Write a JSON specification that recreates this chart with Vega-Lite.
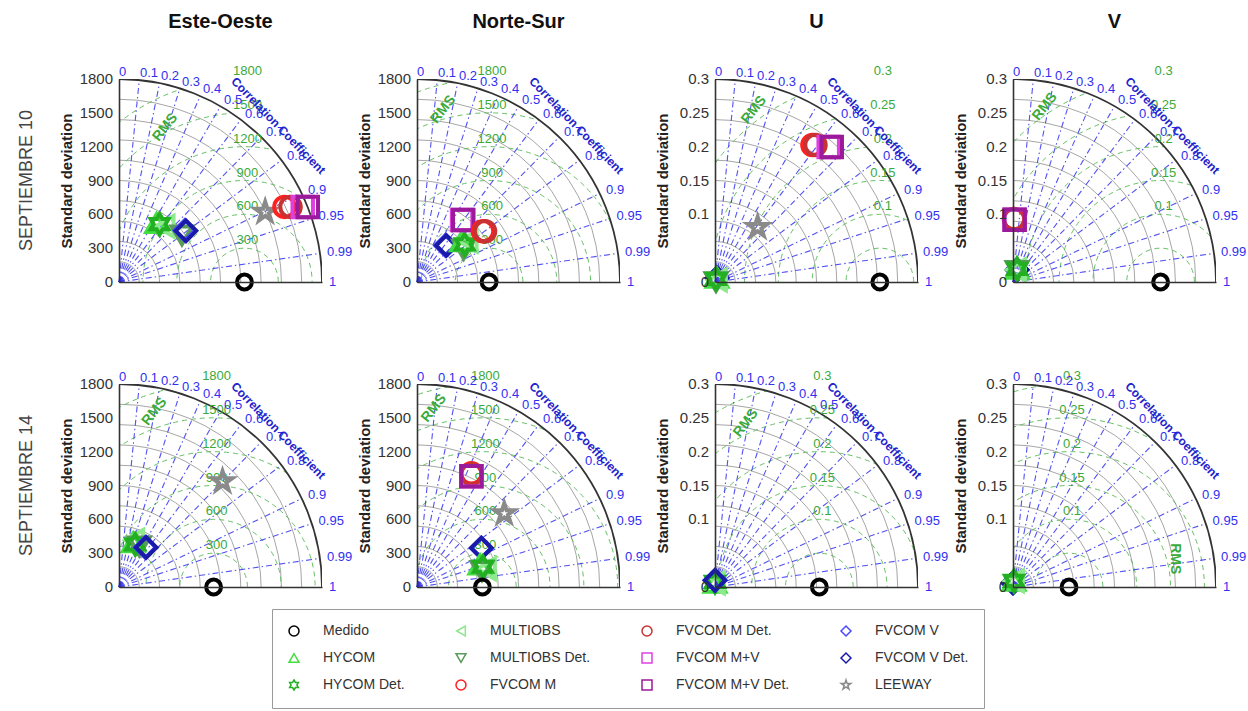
{
"$schema": "https://vega.github.io/schema/vega-lite/v6.json",
"background": "white",
"padding": {"left": 18, "top": 12, "right": 5, "bottom": 5},
"config": {"font": "Liberation Sans", "view": {"stroke": null}},
"data": {"values": [
{"row":"SEPTIEMBRE 10","col":"Este-Oeste","k":"rms","ref":0.618,"r":0.1667,"lab":"300"},
{"row":"SEPTIEMBRE 10","col":"Este-Oeste","k":"rms","ref":0.618,"r":0.3333,"lab":"600"},
{"row":"SEPTIEMBRE 10","col":"Este-Oeste","k":"rms","ref":0.618,"r":0.5,"lab":"900"},
{"row":"SEPTIEMBRE 10","col":"Este-Oeste","k":"rms","ref":0.618,"r":0.6667,"lab":"1200"},
{"row":"SEPTIEMBRE 10","col":"Este-Oeste","k":"rms","ref":0.618,"r":0.8333,"lab":"1500"},
{"row":"SEPTIEMBRE 10","col":"Este-Oeste","k":"rms","ref":0.618,"r":1.0,"lab":"1800"},
{"row":"SEPTIEMBRE 10","col":"Norte-Sur","k":"rms","ref":0.355,"r":0.1667,"lab":"300"},
{"row":"SEPTIEMBRE 10","col":"Norte-Sur","k":"rms","ref":0.355,"r":0.3333,"lab":"600"},
{"row":"SEPTIEMBRE 10","col":"Norte-Sur","k":"rms","ref":0.355,"r":0.5,"lab":"900"},
{"row":"SEPTIEMBRE 10","col":"Norte-Sur","k":"rms","ref":0.355,"r":0.6667,"lab":"1200"},
{"row":"SEPTIEMBRE 10","col":"Norte-Sur","k":"rms","ref":0.355,"r":0.8333,"lab":"1500"},
{"row":"SEPTIEMBRE 10","col":"Norte-Sur","k":"rms","ref":0.355,"r":1.0,"lab":"1800"},
{"row":"SEPTIEMBRE 10","col":"U","k":"rms","ref":0.812,"r":0.1667,"lab":""},
{"row":"SEPTIEMBRE 10","col":"U","k":"rms","ref":0.812,"r":0.3333,"lab":"0.1"},
{"row":"SEPTIEMBRE 10","col":"U","k":"rms","ref":0.812,"r":0.5,"lab":"0.15"},
{"row":"SEPTIEMBRE 10","col":"U","k":"rms","ref":0.812,"r":0.6667,"lab":"0.2"},
{"row":"SEPTIEMBRE 10","col":"U","k":"rms","ref":0.812,"r":0.8333,"lab":"0.25"},
{"row":"SEPTIEMBRE 10","col":"U","k":"rms","ref":0.812,"r":1.0,"lab":"0.3"},
{"row":"SEPTIEMBRE 10","col":"V","k":"rms","ref":0.727,"r":0.1667,"lab":""},
{"row":"SEPTIEMBRE 10","col":"V","k":"rms","ref":0.727,"r":0.3333,"lab":"0.1"},
{"row":"SEPTIEMBRE 10","col":"V","k":"rms","ref":0.727,"r":0.5,"lab":"0.15"},
{"row":"SEPTIEMBRE 10","col":"V","k":"rms","ref":0.727,"r":0.6667,"lab":"0.2"},
{"row":"SEPTIEMBRE 10","col":"V","k":"rms","ref":0.727,"r":0.8333,"lab":"0.25"},
{"row":"SEPTIEMBRE 10","col":"V","k":"rms","ref":0.727,"r":1.0,"lab":"0.3"},
{"row":"SEPTIEMBRE 14","col":"Este-Oeste","k":"rms","ref":0.466,"r":0.1667,"lab":"300"},
{"row":"SEPTIEMBRE 14","col":"Este-Oeste","k":"rms","ref":0.466,"r":0.3333,"lab":"600"},
{"row":"SEPTIEMBRE 14","col":"Este-Oeste","k":"rms","ref":0.466,"r":0.5,"lab":"900"},
{"row":"SEPTIEMBRE 14","col":"Este-Oeste","k":"rms","ref":0.466,"r":0.6667,"lab":"1200"},
{"row":"SEPTIEMBRE 14","col":"Este-Oeste","k":"rms","ref":0.466,"r":0.8333,"lab":"1500"},
{"row":"SEPTIEMBRE 14","col":"Este-Oeste","k":"rms","ref":0.466,"r":1.0,"lab":"1800"},
{"row":"SEPTIEMBRE 14","col":"Norte-Sur","k":"rms","ref":0.322,"r":0.1667,"lab":"300"},
{"row":"SEPTIEMBRE 14","col":"Norte-Sur","k":"rms","ref":0.322,"r":0.3333,"lab":"600"},
{"row":"SEPTIEMBRE 14","col":"Norte-Sur","k":"rms","ref":0.322,"r":0.5,"lab":"900"},
{"row":"SEPTIEMBRE 14","col":"Norte-Sur","k":"rms","ref":0.322,"r":0.6667,"lab":"1200"},
{"row":"SEPTIEMBRE 14","col":"Norte-Sur","k":"rms","ref":0.322,"r":0.8333,"lab":"1500"},
{"row":"SEPTIEMBRE 14","col":"Norte-Sur","k":"rms","ref":0.322,"r":1.0,"lab":"1800"},
{"row":"SEPTIEMBRE 14","col":"U","k":"rms","ref":0.514,"r":0.1667,"lab":""},
{"row":"SEPTIEMBRE 14","col":"U","k":"rms","ref":0.514,"r":0.3333,"lab":"0.1"},
{"row":"SEPTIEMBRE 14","col":"U","k":"rms","ref":0.514,"r":0.5,"lab":"0.15"},
{"row":"SEPTIEMBRE 14","col":"U","k":"rms","ref":0.514,"r":0.6667,"lab":"0.2"},
{"row":"SEPTIEMBRE 14","col":"U","k":"rms","ref":0.514,"r":0.8333,"lab":"0.25"},
{"row":"SEPTIEMBRE 14","col":"U","k":"rms","ref":0.514,"r":1.0,"lab":"0.3"},
{"row":"SEPTIEMBRE 14","col":"V","k":"rms","ref":0.276,"r":0.1667,"lab":""},
{"row":"SEPTIEMBRE 14","col":"V","k":"rms","ref":0.276,"r":0.3333,"lab":"0.1"},
{"row":"SEPTIEMBRE 14","col":"V","k":"rms","ref":0.276,"r":0.5,"lab":"0.15"},
{"row":"SEPTIEMBRE 14","col":"V","k":"rms","ref":0.276,"r":0.6667,"lab":"0.2"},
{"row":"SEPTIEMBRE 14","col":"V","k":"rms","ref":0.276,"r":0.8333,"lab":"0.25"},
{"row":"SEPTIEMBRE 14","col":"V","k":"rms","ref":0.276,"r":1.0,"lab":"0.3"},
{"row":"SEPTIEMBRE 10","col":"Este-Oeste","k":"rmst","x":0.228,"y":0.762},
{"row":"SEPTIEMBRE 10","col":"Norte-Sur","k":"rmst","x":0.129,"y":0.85},
{"row":"SEPTIEMBRE 10","col":"U","k":"rmst","x":0.192,"y":0.848},
{"row":"SEPTIEMBRE 10","col":"V","k":"rmst","x":0.157,"y":0.864},
{"row":"SEPTIEMBRE 14","col":"Este-Oeste","k":"rmst","x":0.175,"y":0.864},
{"row":"SEPTIEMBRE 14","col":"Norte-Sur","k":"rmst","x":0.084,"y":0.881},
{"row":"SEPTIEMBRE 14","col":"U","k":"rmst","x":0.152,"y":0.808},
{"row":"SEPTIEMBRE 14","col":"V","k":"rmst","x":0.8,"y":0.139},
{"row":"SEPTIEMBRE 10","col":"Este-Oeste","k":"yl","y":0,"t":"0"},
{"row":"SEPTIEMBRE 10","col":"Este-Oeste","k":"yl","y":0.1667,"t":"300"},
{"row":"SEPTIEMBRE 10","col":"Este-Oeste","k":"yl","y":0.3333,"t":"600"},
{"row":"SEPTIEMBRE 10","col":"Este-Oeste","k":"yl","y":0.5,"t":"900"},
{"row":"SEPTIEMBRE 10","col":"Este-Oeste","k":"yl","y":0.6667,"t":"1200"},
{"row":"SEPTIEMBRE 10","col":"Este-Oeste","k":"yl","y":0.8333,"t":"1500"},
{"row":"SEPTIEMBRE 10","col":"Este-Oeste","k":"yl","y":1,"t":"1800"},
{"row":"SEPTIEMBRE 10","col":"Norte-Sur","k":"yl","y":0,"t":"0"},
{"row":"SEPTIEMBRE 10","col":"Norte-Sur","k":"yl","y":0.1667,"t":"300"},
{"row":"SEPTIEMBRE 10","col":"Norte-Sur","k":"yl","y":0.3333,"t":"600"},
{"row":"SEPTIEMBRE 10","col":"Norte-Sur","k":"yl","y":0.5,"t":"900"},
{"row":"SEPTIEMBRE 10","col":"Norte-Sur","k":"yl","y":0.6667,"t":"1200"},
{"row":"SEPTIEMBRE 10","col":"Norte-Sur","k":"yl","y":0.8333,"t":"1500"},
{"row":"SEPTIEMBRE 10","col":"Norte-Sur","k":"yl","y":1,"t":"1800"},
{"row":"SEPTIEMBRE 10","col":"U","k":"yl","y":0,"t":"0"},
{"row":"SEPTIEMBRE 10","col":"U","k":"yl","y":0.3333,"t":"0.1"},
{"row":"SEPTIEMBRE 10","col":"U","k":"yl","y":0.5,"t":"0.15"},
{"row":"SEPTIEMBRE 10","col":"U","k":"yl","y":0.6667,"t":"0.2"},
{"row":"SEPTIEMBRE 10","col":"U","k":"yl","y":0.8333,"t":"0.25"},
{"row":"SEPTIEMBRE 10","col":"U","k":"yl","y":1,"t":"0.3"},
{"row":"SEPTIEMBRE 10","col":"V","k":"yl","y":0,"t":"0"},
{"row":"SEPTIEMBRE 10","col":"V","k":"yl","y":0.3333,"t":"0.1"},
{"row":"SEPTIEMBRE 10","col":"V","k":"yl","y":0.5,"t":"0.15"},
{"row":"SEPTIEMBRE 10","col":"V","k":"yl","y":0.6667,"t":"0.2"},
{"row":"SEPTIEMBRE 10","col":"V","k":"yl","y":0.8333,"t":"0.25"},
{"row":"SEPTIEMBRE 10","col":"V","k":"yl","y":1,"t":"0.3"},
{"row":"SEPTIEMBRE 14","col":"Este-Oeste","k":"yl","y":0,"t":"0"},
{"row":"SEPTIEMBRE 14","col":"Este-Oeste","k":"yl","y":0.1667,"t":"300"},
{"row":"SEPTIEMBRE 14","col":"Este-Oeste","k":"yl","y":0.3333,"t":"600"},
{"row":"SEPTIEMBRE 14","col":"Este-Oeste","k":"yl","y":0.5,"t":"900"},
{"row":"SEPTIEMBRE 14","col":"Este-Oeste","k":"yl","y":0.6667,"t":"1200"},
{"row":"SEPTIEMBRE 14","col":"Este-Oeste","k":"yl","y":0.8333,"t":"1500"},
{"row":"SEPTIEMBRE 14","col":"Este-Oeste","k":"yl","y":1,"t":"1800"},
{"row":"SEPTIEMBRE 14","col":"Norte-Sur","k":"yl","y":0,"t":"0"},
{"row":"SEPTIEMBRE 14","col":"Norte-Sur","k":"yl","y":0.1667,"t":"300"},
{"row":"SEPTIEMBRE 14","col":"Norte-Sur","k":"yl","y":0.3333,"t":"600"},
{"row":"SEPTIEMBRE 14","col":"Norte-Sur","k":"yl","y":0.5,"t":"900"},
{"row":"SEPTIEMBRE 14","col":"Norte-Sur","k":"yl","y":0.6667,"t":"1200"},
{"row":"SEPTIEMBRE 14","col":"Norte-Sur","k":"yl","y":0.8333,"t":"1500"},
{"row":"SEPTIEMBRE 14","col":"Norte-Sur","k":"yl","y":1,"t":"1800"},
{"row":"SEPTIEMBRE 14","col":"U","k":"yl","y":0,"t":"0"},
{"row":"SEPTIEMBRE 14","col":"U","k":"yl","y":0.3333,"t":"0.1"},
{"row":"SEPTIEMBRE 14","col":"U","k":"yl","y":0.5,"t":"0.15"},
{"row":"SEPTIEMBRE 14","col":"U","k":"yl","y":0.6667,"t":"0.2"},
{"row":"SEPTIEMBRE 14","col":"U","k":"yl","y":0.8333,"t":"0.25"},
{"row":"SEPTIEMBRE 14","col":"U","k":"yl","y":1,"t":"0.3"},
{"row":"SEPTIEMBRE 14","col":"V","k":"yl","y":0,"t":"0"},
{"row":"SEPTIEMBRE 14","col":"V","k":"yl","y":0.3333,"t":"0.1"},
{"row":"SEPTIEMBRE 14","col":"V","k":"yl","y":0.5,"t":"0.15"},
{"row":"SEPTIEMBRE 14","col":"V","k":"yl","y":0.6667,"t":"0.2"},
{"row":"SEPTIEMBRE 14","col":"V","k":"yl","y":0.8333,"t":"0.25"},
{"row":"SEPTIEMBRE 14","col":"V","k":"yl","y":1,"t":"0.3"},
{"row":"SEPTIEMBRE 10","col":"Este-Oeste","k":"pt","m":"HYCOM","x":0.185,"y":0.29},
{"row":"SEPTIEMBRE 10","col":"Este-Oeste","k":"pt","m":"MULTIOBS","x":0.225,"y":0.275},
{"row":"SEPTIEMBRE 10","col":"Este-Oeste","k":"pt","m":"MULTIOBS Det.","x":0.31,"y":0.23},
{"row":"SEPTIEMBRE 10","col":"Este-Oeste","k":"pt","m":"HYCOM Det.","x":0.2,"y":0.285},
{"row":"SEPTIEMBRE 10","col":"Este-Oeste","k":"pt","m":"FVCOM V","x":0.325,"y":0.255},
{"row":"SEPTIEMBRE 10","col":"Este-Oeste","k":"pt","m":"FVCOM V Det.","x":0.33,"y":0.252},
{"row":"SEPTIEMBRE 10","col":"Este-Oeste","k":"pt","m":"LEEWAY","x":0.72,"y":0.345},
{"row":"SEPTIEMBRE 10","col":"Este-Oeste","k":"pt","m":"FVCOM M","x":0.815,"y":0.37},
{"row":"SEPTIEMBRE 10","col":"Este-Oeste","k":"pt","m":"FVCOM M Det.","x":0.845,"y":0.37},
{"row":"SEPTIEMBRE 10","col":"Este-Oeste","k":"pt","m":"FVCOM M+V","x":0.905,"y":0.37},
{"row":"SEPTIEMBRE 10","col":"Este-Oeste","k":"pt","m":"FVCOM M+V Det.","x":0.93,"y":0.37},
{"row":"SEPTIEMBRE 10","col":"Este-Oeste","k":"pt","m":"Medido","x":0.618,"y":0},
{"row":"SEPTIEMBRE 10","col":"Norte-Sur","k":"pt","m":"FVCOM V","x":0.14,"y":0.18},
{"row":"SEPTIEMBRE 10","col":"Norte-Sur","k":"pt","m":"FVCOM V Det.","x":0.145,"y":0.18},
{"row":"SEPTIEMBRE 10","col":"Norte-Sur","k":"pt","m":"MULTIOBS Det.","x":0.23,"y":0.16},
{"row":"SEPTIEMBRE 10","col":"Norte-Sur","k":"pt","m":"HYCOM","x":0.22,"y":0.2},
{"row":"SEPTIEMBRE 10","col":"Norte-Sur","k":"pt","m":"MULTIOBS","x":0.25,"y":0.2},
{"row":"SEPTIEMBRE 10","col":"Norte-Sur","k":"pt","m":"HYCOM Det.","x":0.235,"y":0.185},
{"row":"SEPTIEMBRE 10","col":"Norte-Sur","k":"pt","m":"FVCOM M+V","x":0.222,"y":0.305},
{"row":"SEPTIEMBRE 10","col":"Norte-Sur","k":"pt","m":"FVCOM M+V Det.","x":0.228,"y":0.305},
{"row":"SEPTIEMBRE 10","col":"Norte-Sur","k":"pt","m":"FVCOM M","x":0.325,"y":0.25},
{"row":"SEPTIEMBRE 10","col":"Norte-Sur","k":"pt","m":"FVCOM M Det.","x":0.335,"y":0.25},
{"row":"SEPTIEMBRE 10","col":"Norte-Sur","k":"pt","m":"Medido","x":0.355,"y":0},
{"row":"SEPTIEMBRE 10","col":"U","k":"pt","m":"FVCOM V","x":0.01,"y":0.02},
{"row":"SEPTIEMBRE 10","col":"U","k":"pt","m":"FVCOM V Det.","x":0.01,"y":0.02},
{"row":"SEPTIEMBRE 10","col":"U","k":"pt","m":"HYCOM","x":0.01,"y":0.02},
{"row":"SEPTIEMBRE 10","col":"U","k":"pt","m":"MULTIOBS","x":0.01,"y":0.01},
{"row":"SEPTIEMBRE 10","col":"U","k":"pt","m":"MULTIOBS Det.","x":0.005,"y":0.0},
{"row":"SEPTIEMBRE 10","col":"U","k":"pt","m":"HYCOM Det.","x":0.005,"y":0.015},
{"row":"SEPTIEMBRE 10","col":"U","k":"pt","m":"LEEWAY","x":0.21,"y":0.27},
{"row":"SEPTIEMBRE 10","col":"U","k":"pt","m":"FVCOM M","x":0.48,"y":0.675},
{"row":"SEPTIEMBRE 10","col":"U","k":"pt","m":"FVCOM M Det.","x":0.495,"y":0.675},
{"row":"SEPTIEMBRE 10","col":"U","k":"pt","m":"FVCOM M+V","x":0.56,"y":0.665},
{"row":"SEPTIEMBRE 10","col":"U","k":"pt","m":"FVCOM M+V Det.","x":0.575,"y":0.665},
{"row":"SEPTIEMBRE 10","col":"U","k":"pt","m":"Medido","x":0.812,"y":0},
{"row":"SEPTIEMBRE 10","col":"V","k":"pt","m":"FVCOM V","x":0.02,"y":0.06},
{"row":"SEPTIEMBRE 10","col":"V","k":"pt","m":"FVCOM V Det.","x":0.02,"y":0.06},
{"row":"SEPTIEMBRE 10","col":"V","k":"pt","m":"HYCOM","x":0.02,"y":0.065},
{"row":"SEPTIEMBRE 10","col":"V","k":"pt","m":"MULTIOBS","x":0.015,"y":0.06},
{"row":"SEPTIEMBRE 10","col":"V","k":"pt","m":"MULTIOBS Det.","x":0.02,"y":0.055},
{"row":"SEPTIEMBRE 10","col":"V","k":"pt","m":"HYCOM Det.","x":0.02,"y":0.065},
{"row":"SEPTIEMBRE 10","col":"V","k":"pt","m":"FVCOM M","x":0.005,"y":0.31},
{"row":"SEPTIEMBRE 10","col":"V","k":"pt","m":"FVCOM M Det.","x":0.005,"y":0.31},
{"row":"SEPTIEMBRE 10","col":"V","k":"pt","m":"FVCOM M+V","x":0.008,"y":0.307},
{"row":"SEPTIEMBRE 10","col":"V","k":"pt","m":"FVCOM M+V Det.","x":0.008,"y":0.307},
{"row":"SEPTIEMBRE 10","col":"V","k":"pt","m":"Medido","x":0.727,"y":0},
{"row":"SEPTIEMBRE 14","col":"Este-Oeste","k":"pt","m":"HYCOM","x":0.07,"y":0.22},
{"row":"SEPTIEMBRE 14","col":"Este-Oeste","k":"pt","m":"MULTIOBS","x":0.075,"y":0.23},
{"row":"SEPTIEMBRE 14","col":"Este-Oeste","k":"pt","m":"MULTIOBS Det.","x":0.1,"y":0.2},
{"row":"SEPTIEMBRE 14","col":"Este-Oeste","k":"pt","m":"HYCOM Det.","x":0.08,"y":0.21},
{"row":"SEPTIEMBRE 14","col":"Este-Oeste","k":"pt","m":"FVCOM V","x":0.13,"y":0.195},
{"row":"SEPTIEMBRE 14","col":"Este-Oeste","k":"pt","m":"FVCOM V Det.","x":0.134,"y":0.195},
{"row":"SEPTIEMBRE 14","col":"Este-Oeste","k":"pt","m":"LEEWAY","x":0.51,"y":0.52},
{"row":"SEPTIEMBRE 14","col":"Este-Oeste","k":"pt","m":"Medido","x":0.466,"y":0},
{"row":"SEPTIEMBRE 14","col":"Norte-Sur","k":"pt","m":"FVCOM M","x":0.268,"y":0.56},
{"row":"SEPTIEMBRE 14","col":"Norte-Sur","k":"pt","m":"FVCOM M Det.","x":0.268,"y":0.555},
{"row":"SEPTIEMBRE 14","col":"Norte-Sur","k":"pt","m":"FVCOM M+V","x":0.268,"y":0.545},
{"row":"SEPTIEMBRE 14","col":"Norte-Sur","k":"pt","m":"FVCOM M+V Det.","x":0.268,"y":0.545},
{"row":"SEPTIEMBRE 14","col":"Norte-Sur","k":"pt","m":"LEEWAY","x":0.43,"y":0.362},
{"row":"SEPTIEMBRE 14","col":"Norte-Sur","k":"pt","m":"FVCOM V","x":0.317,"y":0.192},
{"row":"SEPTIEMBRE 14","col":"Norte-Sur","k":"pt","m":"FVCOM V Det.","x":0.317,"y":0.192},
{"row":"SEPTIEMBRE 14","col":"Norte-Sur","k":"pt","m":"HYCOM","x":0.31,"y":0.11},
{"row":"SEPTIEMBRE 14","col":"Norte-Sur","k":"pt","m":"MULTIOBS","x":0.34,"y":0.09},
{"row":"SEPTIEMBRE 14","col":"Norte-Sur","k":"pt","m":"MULTIOBS Det.","x":0.32,"y":0.08},
{"row":"SEPTIEMBRE 14","col":"Norte-Sur","k":"pt","m":"HYCOM Det.","x":0.325,"y":0.1},
{"row":"SEPTIEMBRE 14","col":"Norte-Sur","k":"pt","m":"Medido","x":0.322,"y":0},
{"row":"SEPTIEMBRE 14","col":"U","k":"pt","m":"HYCOM","x":0.0,"y":0.02},
{"row":"SEPTIEMBRE 14","col":"U","k":"pt","m":"MULTIOBS","x":0.0,"y":0.02},
{"row":"SEPTIEMBRE 14","col":"U","k":"pt","m":"HYCOM Det.","x":0.0,"y":0.025},
{"row":"SEPTIEMBRE 14","col":"U","k":"pt","m":"FVCOM V","x":0.0,"y":0.033},
{"row":"SEPTIEMBRE 14","col":"U","k":"pt","m":"FVCOM V Det.","x":0.0,"y":0.033},
{"row":"SEPTIEMBRE 14","col":"U","k":"pt","m":"Medido","x":0.514,"y":0},
{"row":"SEPTIEMBRE 14","col":"V","k":"pt","m":"FVCOM V","x":0.0,"y":0.02},
{"row":"SEPTIEMBRE 14","col":"V","k":"pt","m":"FVCOM V Det.","x":0.0,"y":0.02},
{"row":"SEPTIEMBRE 14","col":"V","k":"pt","m":"HYCOM","x":0.005,"y":0.03},
{"row":"SEPTIEMBRE 14","col":"V","k":"pt","m":"MULTIOBS","x":0.005,"y":0.03},
{"row":"SEPTIEMBRE 14","col":"V","k":"pt","m":"HYCOM Det.","x":0.005,"y":0.03},
{"row":"SEPTIEMBRE 14","col":"V","k":"pt","m":"Medido","x":0.276,"y":0}
]},
"facet": {
  "row": {"field": "row", "type": "nominal", "sort": ["SEPTIEMBRE 10", "SEPTIEMBRE 14"],
    "header": {"title": null, "labelAngle": -90, "labelFontSize": 18, "labelColor": "#444", "labelPadding": 74, "labelFont": "Liberation Sans"}},
  "column": {"field": "col", "type": "nominal", "sort": ["Este-Oeste", "Norte-Sur", "U", "V"],
    "header": {"title": null, "labelFontSize": 20, "labelFontWeight": "bold", "labelColor": "#111", "labelPadding": 47, "labelFont": "Liberation Sans"}}
},
"spacing": {"row": 102, "column": 95},
"bounds": "flush",
"resolve": {"axis": {"x": "independent", "y": "independent"}},
"spec": {
  "width": 203, "height": 203,
  "layer": [
    {
      "data": {"values": [{"x0":0,"y0":0,"r":0.1},{"x0":0,"y0":0,"r":0.2},{"x0":0,"y0":0,"r":0.3},{"x0":0,"y0":0,"r":0.4},{"x0":0,"y0":0,"r":0.5},{"x0":0,"y0":0,"r":0.6},{"x0":0,"y0":0,"r":0.7},{"x0":0,"y0":0,"r":0.8},{"x0":0,"y0":0,"r":0.9}]},
      "mark": {"type": "point", "shape": "circle", "filled": false, "clip": true, "stroke": "#8f8f8f", "strokeWidth": 0.8, "opacity": 1},
      "encoding": {
        "x": {"field": "x0", "type": "quantitative", "scale": {"domain": [0, 1], "nice": false, "zero": true},
          "axis": {"title": null, "labels": false, "ticks": false, "grid": false, "domainColor": "#333", "domainWidth": 1.6, "zindex": 1}},
        "y": {"field": "y0", "type": "quantitative", "scale": {"domain": [0, 1], "nice": false, "zero": true},
          "axis": {"title": "Standard deviation", "labels": false, "ticks": false, "grid": false, "domainColor": "#333", "domainWidth": 1.6, "zindex": 1,
            "titleFontSize": 15, "titleFontWeight": "bold", "titleColor": "#222", "titlePadding": 45, "titleFont": "Liberation Sans"}},
        "size": {"field": "r", "type": "quantitative", "scale": {"type": "pow", "exponent": 2, "domain": [0, 2], "range": [0, 659344]}, "legend": null}
      }
    },
    {
      "transform": [{"filter": "datum.k == 'rms'"}],
      "mark": {"type": "point", "shape": "circle", "filled": false, "clip": true, "stroke": "#55bb55", "strokeWidth": 1, "strokeDash": [5, 4], "opacity": 0.9},
      "encoding": {
        "x": {"field": "ref", "type": "quantitative"},
        "y": {"datum": 0, "type": "quantitative"},
        "size": {"field": "r", "type": "quantitative", "legend": null}
      }
    },
    {
      "data": {"values": [
        {"x0":0,"y0":0,"x2":0.1,"y2":0.99499},{"x0":0,"y0":0,"x2":0.2,"y2":0.9798},{"x0":0,"y0":0,"x2":0.3,"y2":0.95394},
        {"x0":0,"y0":0,"x2":0.4,"y2":0.91652},{"x0":0,"y0":0,"x2":0.5,"y2":0.86603},{"x0":0,"y0":0,"x2":0.6,"y2":0.8},
        {"x0":0,"y0":0,"x2":0.7,"y2":0.71414},{"x0":0,"y0":0,"x2":0.8,"y2":0.6},{"x0":0,"y0":0,"x2":0.9,"y2":0.43589},
        {"x0":0,"y0":0,"x2":0.95,"y2":0.31225},{"x0":0,"y0":0,"x2":0.99,"y2":0.14107}]},
      "mark": {"type": "rule", "stroke": "#3434f0", "strokeWidth": 1.1, "strokeDash": [6, 3, 1.5, 3], "opacity": 0.85},
      "encoding": {
        "x": {"field": "x0", "type": "quantitative"},
        "y": {"field": "y0", "type": "quantitative"},
        "x2": {"field": "x2"},
        "y2": {"field": "y2"}
      }
    },
    {
      "data": {"values": [{"x0":0,"y0":0,"r": 1.25}]},
      "mark": {"type": "point", "shape": "circle", "filled": false, "clip": true, "stroke": "white", "strokeWidth": 102, "opacity": 1},
      "encoding": {
        "x": {"field": "x0", "type": "quantitative"},
        "y": {"field": "y0", "type": "quantitative"},
        "size": {"field": "r", "type": "quantitative", "legend": null}
      }
    },
    {
      "data": {"values": [{"x0":0,"y0":0,"r": 1}]},
      "mark": {"type": "point", "shape": "circle", "filled": false, "clip": true, "stroke": "#333", "strokeWidth": 1.8, "opacity": 1},
      "encoding": {
        "x": {"field": "x0", "type": "quantitative"},
        "y": {"field": "y0", "type": "quantitative"},
        "size": {"field": "r", "type": "quantitative", "legend": null}
      }
    },
    {
      "transform": [{"filter": "datum.k == 'rms' && datum.lab != ''"}],
      "mark": {"type": "text", "align": "center", "baseline": "bottom", "fontSize": 13, "color": "#3aaa3a", "dx": 3, "dy": -1},
      "encoding": {
        "x": {"field": "ref", "type": "quantitative"},
        "y": {"field": "r", "type": "quantitative"},
        "text": {"field": "lab"}
      }
    },
    {
      "transform": [{"filter": "datum.k == 'rmst'"}],
      "mark": {"type": "text", "align": "center", "baseline": "middle", "fontSize": 14, "fontWeight": "bold", "color": "#3aaa3a"},
      "encoding": {
        "x": {"field": "x", "type": "quantitative"},
        "y": {"field": "y", "type": "quantitative"},
        "angle": {"condition": {"test": "datum.x > 0.5", "value": 90}, "value": -52},
        "text": {"value": "RMS"}
      }
    },
    {
      "transform": [{"filter": "datum.k == 'pt'"}],
      "mark": {"type": "point", "filled": false, "strokeWidth": 4, "opacity": 1},
      "encoding": {
        "x": {"field": "x", "type": "quantitative"},
        "y": {"field": "y", "type": "quantitative"},
        "color": {"field": "m", "type": "nominal",
          "scale": {"domain": ["Medido","MULTIOBS","FVCOM M Det.","FVCOM V","HYCOM","MULTIOBS Det.","FVCOM M+V","FVCOM V Det.","HYCOM Det.","FVCOM M","FVCOM M+V Det.","LEEWAY"],
                    "range": ["#000000","#8ee88e","#c83232","#4a4aff","#44dd44","#5a9a5a","#e040e0","#1a1aa8","#22b022","#ff2020","#9a1a9a","#8a8a8a"]},
          "legend": {"title": null, "orient": "none", "legendX": 153, "legendY": 530, "direction": "horizontal", "columns": 4,
                     "labelFontSize": 14, "labelColor": "#333", "labelFont": "Liberation Sans",
                     "symbolSize": 100, "symbolStrokeWidth": 1.5, "strokeColor": "#999", "fillColor": "white", "padding": 15, "rowPadding": 11, "columnPadding": 48, "labelOffset": 22}},
        "shape": {"field": "m", "type": "nominal",
          "scale": {"domain": ["Medido","MULTIOBS","FVCOM M Det.","FVCOM V","HYCOM","MULTIOBS Det.","FVCOM M+V","FVCOM V Det.","HYCOM Det.","FVCOM M","FVCOM M+V Det.","LEEWAY"],
                    "range": ["circle","triangle-left","circle","diamond","triangle-up","triangle-down","square","diamond",
                              "M0,-1L0.289,-0.5L0.866,-0.5L0.577,0L0.866,0.5L0.289,0.5L0,1L-0.289,0.5L-0.866,0.5L-0.577,0L-0.866,-0.5L-0.289,-0.5Z",
                              "circle","square",
                              "M0,-1L0.225,-0.309L0.951,-0.309L0.363,0.118L0.588,0.809L0,0.382L-0.588,0.809L-0.363,0.118L-0.951,-0.309L-0.225,-0.309Z"]}},
        "size": {"condition": {"test": "datum.m == 'Medido'", "value": 220}, "value": 420}
      }
    },
    {
      "data": {"values": [
        {"c":"0","x":0,"y":1.035},{"c":"0.1","x":0.1035,"y":1.0298},{"c":"0.2","x":0.207,"y":1.0141},{"c":"0.3","x":0.3105,"y":0.9873},
        {"c":"0.4","x":0.414,"y":0.9486},{"c":"0.5","x":0.5175,"y":0.8963},{"c":"0.6","x":0.621,"y":0.828},{"c":"0.7","x":0.7245,"y":0.7391},
        {"c":"0.8","x":0.828,"y":0.621},{"c":"0.9","x":0.9315,"y":0.4511},{"c":"0.95","x":0.98325,"y":0.3232},{"c":"0.99","x":1.02465,"y":0.146},{"c":"1","x":1.035,"y":0}]},
      "mark": {"type": "text", "align": "left", "baseline": "middle", "fontSize": 13, "color": "#3030f0"},
      "encoding": {
        "x": {"field": "x", "type": "quantitative"},
        "y": {"field": "y", "type": "quantitative"},
        "text": {"field": "c"}
      }
    },
    {
      "data": {"values": [{"t": "Correlation Coefficient", "x": 0.785, "y": 0.77}]},
      "mark": {"type": "text", "align": "center", "baseline": "middle", "fontSize": 12, "fontWeight": "bold", "color": "#2222cc", "angle": 46},
      "encoding": {
        "x": {"field": "x", "type": "quantitative"},
        "y": {"field": "y", "type": "quantitative"},
        "text": {"field": "t"}
      }
    },
    {
      "transform": [{"filter": "datum.k == 'yl'"}],
      "mark": {"type": "text", "align": "right", "baseline": "middle", "fontSize": 15, "color": "#333", "dx": -6},
      "encoding": {
        "x": {"datum": 0, "type": "quantitative"},
        "y": {"field": "y", "type": "quantitative"},
        "text": {"field": "t"}
      }
    }
  ]
}
}
